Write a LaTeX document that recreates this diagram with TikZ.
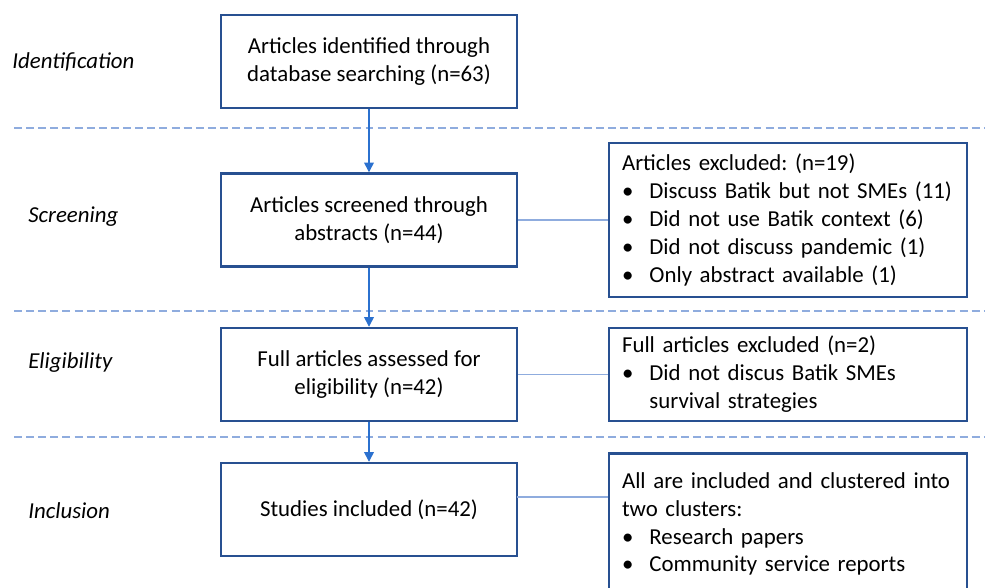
\documentclass[tikz,border=0pt]{standalone}
\usepackage{fontspec}
\setmainfont{Carlito}
\usetikzlibrary{arrows.meta}
\definecolor{boxblue}{RGB}{40,80,145}
\definecolor{arrowblue}{RGB}{43,113,207}
\definecolor{lineblue}{RGB}{143,172,222}
\setlength{\parindent}{0pt}
\hyphenpenalty=10000
\frenchspacing
\newcommand{\pitem}[1]{\par\hangindent=1.2em\hangafter=1\noindent\makebox[1.2em][l]{\textbullet}#1\par}

\begin{document}
\begin{tikzpicture}[x = 0.02cm, y = -0.02cm,
                      every node/.style = {font = \fontsize{13}{15.9}\selectfont},
                      stage/.style = {draw = boxblue, line width = 1.4pt, align = center,
                                      minimum width = 5.92cm, minimum height = 1.86cm},
                      note/.style = {draw = boxblue, line width = 1.4pt, align = left,
                                     text width = 6.64cm, inner xsep = 0.26cm,
                                     minimum width = 7.16cm},
                      phase/.style = {anchor = west, inner sep = 0pt,
                                      font = \fontsize{13}{15.9}\selectfont\itshape},
                      sep/.style = {draw = lineblue, line width = 0.7pt, dash pattern = on 4.5pt off 2.4pt},
                      flow/.style = {draw = arrowblue, line width = 0.8pt, -{Triangle[length = 5.5pt, width = 5.5pt]}},
                      link/.style = {draw = lineblue, line width = 0.8pt}]
    \useasboundingbox (0, 0) rectangle (985, 588);

    \node [phase] (ident) at (12, 62) {Identification};
    \node [phase] (screen) at (28, 217) {Screening};
    \node [phase] (elig) at (28, 363) {Eligibility};
    \node [phase] (incl) at (28, 511) {Inclusion};

    \draw [sep] (14, 128) -- (985, 128);
    \draw [sep] (14, 311) -- (985, 311);
    \draw [sep] (14, 437) -- (985, 437);

    \node [stage] (found) at (369, 61.5) {Articles identified through\\database searching (n=63)};
    \node [stage] (screened) at (369, 220) {Articles screened through\\abstracts (n=44)};
    \node [stage] (assessed) at (369, 374.5) {Full articles assessed for\\eligibility (n=42)};
    \node [stage] (included) at (369, 509.5) {Studies included (n=42)};

    \node [note, minimum height = 3.08cm] (excl2) at (788, 220)
        {Articles excluded: (n=19)
         \pitem{Discuss Batik but not SMEs (11)}
         \pitem{Did not use Batik context (6)}
         \pitem{Did not discuss pandemic (1)}
         \pitem{Only abstract available (1)}};
    \node [note, minimum height = 1.86cm] (excl3) at (788, 374.5)
        {Full articles excluded (n=2)
         \pitem{Did not discus Batik SMEs survival strategies}};
    \node [note, minimum height = 2.82cm] (excl4) at (788, 524)
        {All are included and clustered into two clusters:
         \pitem{Research papers}
         \pitem{Community service reports}};

    \draw [flow] (found) -- (screened);
    \draw [flow] (screened) -- (assessed);
    \draw [flow] (assessed) -- (included);

    \draw [link] (screened) -- (excl2);
    \draw [link] (assessed.east) -- (assessed.east -| excl3.west);
    \coordinate (j4) at (517, 497);
    \draw [link] (j4) -- (j4 -| excl4.west);
\end{tikzpicture}
\end{document}
